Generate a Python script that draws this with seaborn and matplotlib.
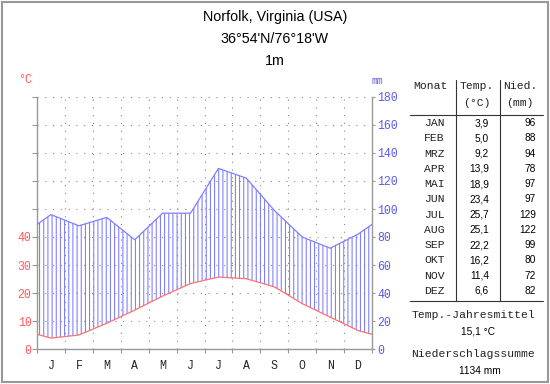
import numpy as np
import matplotlib
matplotlib.use("Agg")
import matplotlib.pyplot as plt
from matplotlib.lines import Line2D
from matplotlib.patches import Rectangle
import seaborn as sns

# data
station = "Norfolk, Virginia (USA)"
coords = "36°54'N/76°18'W"
altitude = "1m"
month_letters = ["J", "F", "M", "A", "M", "J", "J", "A", "S", "O", "N", "D"]
month_abbr = ["JAN", "FEB", "MRZ", "APR", "MAI", "JUN", "JUL", "AUG", "SEP", "OKT", "NOV", "DEZ"]
temp = [3.9, 5.0, 9.2, 13.9, 18.9, 23.4, 25.7, 25.1, 22.2, 16.2, 11.4, 6.6]
precip = [96, 88, 94, 78, 97, 97, 129, 122, 99, 80, 72, 82]
temp_ticks = [0, 10, 20, 30, 40]
precip_ticks = [0, 20, 40, 60, 80, 100, 120, 140, 160, 180]

W, H = 550, 384
RED = "#ff5a5a"
BLUE = "#5a5aee"
HATCH = "#7575ff"
MONO = "Liberation Mono"
SANS = "Liberation Sans"

sns.set_style("white")
plt.rcParams["font.family"] = [SANS, "DejaVu Sans"]
plt.rcParams["hatch.linewidth"] = 0.72
plt.rcParams["hatch.color"] = HATCH


def px(x, y):
    return x / W, 1 - y / H


def ftext(x, y, s, **kw):
    kw.setdefault("va", "center")
    fig.text(*px(x, y), s, **kw)


def fline(x0, y0, x1, y1, **kw):
    a, b = px(x0, y0)
    c, d = px(x1, y1)
    fig.add_artist(Line2D([a, c], [b, d], transform=fig.transFigure, **kw))


fig = plt.figure(figsize=(W / 100, H / 100), dpi=100)
fig.add_artist(Rectangle(px(2, 382), 546 / W, 380 / H, transform=fig.transFigure,
                         fill=False, ec="#999999", lw=1.5))

# month centres, curve runs out to the edges with the Dec/Jan mean
xc = np.arange(12) + 0.5
xs = np.concatenate([[0], xc, [12]])
t_edge = (temp[0] + temp[-1]) / 2
p_edge = (precip[0] + precip[-1]) / 2
t_y = 2 * np.array([t_edge] + temp + [t_edge])
p_y = np.array([p_edge] + precip + [p_edge], dtype=float)

ax = fig.add_axes([37 / W, 1 - 349 / H, 335 / W, 252 / H])
ax.grid(True, which="major", color="#888888", linestyle=(0, (1, 6)), linewidth=0.8)
ax.set_axisbelow(True)
ax.fill_between(xs, t_y, p_y, where=p_y >= t_y, facecolor="none",
                edgecolor=HATCH, hatch="||||", linewidth=0, zorder=1)
sns.lineplot(x=xs, y=p_y, ax=ax, color="#8080ff", linewidth=0.9, zorder=3)
sns.lineplot(x=xs, y=t_y, ax=ax, color="#ff7070", linewidth=0.9, zorder=3)

ax.set_xlim(0, 12)
ax.set_ylim(0, 180)
ax.set_xticks(range(13))
ax.set_xticklabels([])
ax.set_xticks(xc, minor=True)
ax.set_xticklabels(month_letters, minor=True, fontfamily=MONO, fontsize=8.3)
ax.tick_params(axis="x", which="major", length=3, color="#999999", direction="out", bottom=True)
ax.tick_params(axis="x", which="minor", length=0, pad=8)
ax.set_yticks(precip_ticks)
ax.set_yticklabels([str(int(v / 2)) if v / 2 in temp_ticks else "" for v in precip_ticks],
                   fontfamily=MONO, fontsize=8.3, color=RED)
ax.tick_params(axis="y", length=3.5, pad=0.5, color="#999999", direction="out", left=True)
for side in ["top", "right"]:
    ax.spines[side].set_visible(False)
for side in ["left", "bottom"]:
    ax.spines[side].set_color("#999999")
    ax.spines[side].set_linewidth(1)

ax2 = ax.twinx()
ax2.set_ylim(0, 180)
ax2.set_yticks(precip_ticks)
ax2.set_yticklabels([str(v) for v in precip_ticks], fontfamily=MONO, fontsize=8.3, color=BLUE)
ax2.tick_params(axis="y", length=2.5, pad=1.5, color="#999999", direction="out", right=True)
for side in ["top", "left", "bottom"]:
    ax2.spines[side].set_visible(False)
ax2.spines["right"].set_color("#999999")
ax2.spines["right"].set_linewidth(1)

ftext(25, 80, "°C", color=RED, fontfamily=MONO, fontsize=8.5, ha="center")
ftext(377, 81, "mm", color=BLUE, fontfamily=MONO, fontsize=7, ha="center")

# title
ftext(275, 17, station, ha="center", fontsize=10.3, color="black")
ftext(275, 39, coords, ha="center", fontsize=10.3, color="black")
ftext(275, 61, altitude, ha="center", fontsize=10.3, color="black")

# table
lc = "#333333"
fline(456, 80, 456, 301, color=lc, lw=0.8)
fline(500, 80, 500, 301, color=lc, lw=0.8)
fline(410, 115, 543, 115, color=lc, lw=0.8)
fline(410, 301, 543, 301, color=lc, lw=0.8)

mono_kw = dict(fontfamily=MONO, fontsize=8.2, color="#222222")
ftext(430, 86, "Monat", ha="center", **mono_kw)
ftext(477, 86, "Temp.", ha="center", **mono_kw)
ftext(477, 103, "(°C)", ha="center", **mono_kw)
ftext(520, 86, "Nied.", ha="center", **mono_kw)
ftext(520, 103, "(mm)", ha="center", **mono_kw)

for i, (m, t, p) in enumerate(zip(month_abbr, temp, precip)):
    y = 123 + i * 15.27
    ftext(434.5, y, m, ha="center", **mono_kw)
    ftext(489, y, f"{t:.1f}".replace(".", ","), ha="right", fontsize=7.3, color="black")
    ftext(536, y, str(p), ha="right", fontsize=7.3, color="black")

mean_t = sum(temp) / len(temp)
total_p = sum(precip)
ftext(473, 315, "Temp.-Jahresmittel", ha="center", **mono_kw)
ftext(478, 332, f"{mean_t:.1f}".replace(".", ",") + " °C", ha="center", fontsize=7.3, color="black")
ftext(473, 354, "Niederschlagssumme", ha="center", **mono_kw)
ftext(480, 371, f"{total_p} mm", ha="center", fontsize=7.3, color="black")

fig.savefig("out.png", dpi=100, facecolor="white")
